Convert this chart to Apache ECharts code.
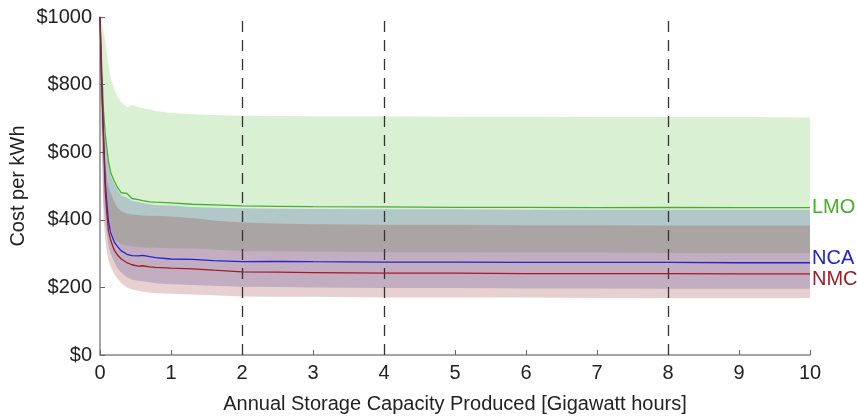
<!DOCTYPE html>
<html>
<head>
<meta charset="utf-8">
<script src="https://cdn.jsdelivr.net/npm/echarts@6/dist/echarts.min.js"></script>
<style>html,body{margin:0;padding:0;background:#fff}#c{width:857px;height:416px}</style>
</head>
<body>
<div id="c"></div>
<script>
const xs = [0, 0.02, 0.05, 0.075, 0.1, 0.12, 0.15, 0.2, 0.25, 0.3, 0.38, 0.45, 0.54, 0.6, 0.7, 0.78, 1, 1.3, 1.6, 2, 2.5, 3, 4, 5, 6, 7, 8, 9, 10];

const lmoLine  = [1000, 880, 720, 650, 605, 572, 540, 515, 495, 480, 478, 463, 460, 457, 453, 452, 450, 446, 444, 441, 440, 439, 438, 437, 437, 436, 437, 436, 436];
const lmoUpper = [1000, 990, 960, 924, 885, 860, 820, 785, 765, 748, 732, 740, 733, 730, 727, 722, 716, 712, 710, 708, 707, 706, 706, 705, 705, 704, 704, 704, 703];
const lmoLower = [950, 800, 600, 500, 440, 410, 378, 343, 334, 328, 324, 322, 320, 319, 318, 317, 316, 315, 312, 308, 307, 306, 304, 304, 303, 303, 302, 302, 302];

const ncaLine  = [1000, 840, 650, 510, 440, 395, 362, 335, 320, 308, 298, 294, 293, 295, 291, 288, 284, 283, 279, 276, 277, 276, 275, 275, 274, 274, 274, 273, 273];
const ncaUpper = [1000, 860, 700, 630, 590, 560, 530, 507, 488, 472, 466, 456, 453, 450, 446, 444, 442, 438, 436, 434, 433, 432, 431, 431, 430, 430, 430, 430, 430];
const ncaLower = [900, 700, 450, 390, 350, 320, 300, 275, 255, 243, 230, 223, 220, 218, 215, 212, 209, 207, 205, 202, 201, 200, 198, 198, 197, 197, 196, 196, 196];

const nmcLine  = [1000, 830, 630, 480, 410, 365, 340, 310, 295, 284, 273, 267, 263, 264, 261, 259, 257, 255, 251, 246, 245, 244, 242, 242, 241, 241, 241, 240, 240];
const nmcUpper = [1000, 840, 660, 570, 520, 500, 480, 455, 435, 425, 419, 416, 414, 413, 412, 412, 410, 405, 398, 392, 389, 387, 385, 385, 384, 384, 383, 383, 383];
const nmcLower = [880, 650, 400, 340, 300, 280, 262, 240, 225, 212, 200, 194, 190, 188, 185, 183, 181, 179, 177, 173, 172, 172, 170, 170, 170, 169, 169, 169, 169];

const refLines = [2, 4, 8];
const yTicks = [0, 200, 400, 600, 800, 1000];

const FONT = 'Liberation Sans';
const FS = 20;
const pts = arr => xs.map((x, i) => [x, arr[i]]);

function band(name, up, lo, fill, z) {
  return {
    type: 'custom', name: name + '_band', silent: true, z: z, clip: true,
    data: [[0, 0]],
    renderItem: function (params, api) {
      const p = [];
      for (let i = 0; i < xs.length; i++) p.push(api.coord([xs[i], up[i]]));
      for (let i = xs.length - 1; i >= 0; i--) p.push(api.coord([xs[i], lo[i]]));
      return { type: 'polygon', shape: { points: p }, style: { fill: fill } };
    }
  };
}
function line(name, arr, color, offY) {
  return { type: 'line', name: name, data: pts(arr), symbol: 'none', z: 5,
    lineStyle: { color: color, width: 1.3 },
    endLabel: { show: true, formatter: '{a}', color: color, fontFamily: FONT, fontSize: FS,
      distance: 2, offset: [0, offY] } };
}

const chart = echarts.init(document.getElementById('c'));
chart.setOption({
  animation: false,
  grid: { left: 100, right: 47, top: 17, bottom: 61, outerBoundsMode: 'none', containLabel: false },
  xAxis: {
    type: 'value', min: 0, max: 10, interval: 1,
    name: 'Annual Storage Capacity Produced [Gigawatt hours]', nameLocation: 'middle', nameGap: 39,
    nameMoveOverlap: false,
    nameTextStyle: { fontFamily: FONT, fontSize: FS, color: '#222' },
    axisLine: { lineStyle: { color: '#888', width: 1.5 } },
    axisTick: { inside: true, length: 5, lineStyle: { color: '#666' } },
    axisLabel: { fontFamily: FONT, fontSize: FS, color: '#222', margin: 8 },
    splitLine: { show: false }
  },
  yAxis: {
    type: 'value', min: 0, max: 1000, interval: 200,
    name: 'Cost per kWh', nameLocation: 'middle', nameGap: 72,
    nameMoveOverlap: false,
    nameTextStyle: { fontFamily: FONT, fontSize: FS, color: '#222' },
    axisLine: { show: true, lineStyle: { color: '#888', width: 1.5 } },
    axisTick: { show: true, inside: true, length: 5, lineStyle: { color: '#666' } },
    axisLabel: { fontFamily: FONT, fontSize: FS, color: '#222', margin: 8,
      formatter: v => yTicks.includes(v) ? '$' + v : '' },
    splitLine: { show: false }
  },
  series: [
    band('LMO', lmoUpper, lmoLower, 'rgba(65,180,30,0.2)', 1),
    band('NCA', ncaUpper, ncaLower, 'rgba(22,40,160,0.2)', 2),
    band('NMC', nmcUpper, nmcLower, 'rgba(140,20,20,0.2)', 3),
    line('LMO', lmoLine, '#44b02a', 0),
    line('NCA', ncaLine, '#2222d0', -4),
    line('NMC', nmcLine, '#a01c28', 6),
    { type: 'line', name: 'ref', data: [], silent: true, z: 6,
      markLine: { symbol: 'none', silent: true, label: { show: false },
        lineStyle: { color: '#333', type: [11, 8], width: 1.3 },
        data: refLines.map(v => ({ xAxis: v })) } }
  ]
});
</script>
</body>
</html>
